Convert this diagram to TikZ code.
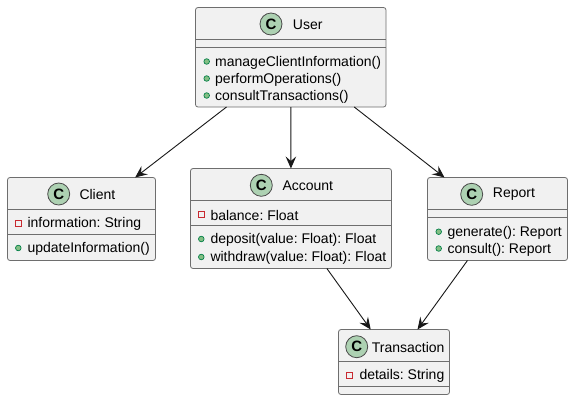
\documentclass[tikz,border=0pt]{standalone}
\usepackage{fontspec}
\setmainfont{Liberation Sans}
\usetikzlibrary{arrows.meta}
\definecolor{boxfill}{HTML}{F1F1F1}
\definecolor{boxline}{HTML}{6E6E6E}
\definecolor{arrline}{HTML}{181818}
\definecolor{spotline}{HTML}{4A4A4A}
\definecolor{spotfill}{HTML}{ADD1B2}
\definecolor{pubfill}{HTML}{84BE84}
\definecolor{publine}{HTML}{038048}
\definecolor{privline}{HTML}{C82930}
\tikzset{
  classbox/.style={draw=boxline,fill=boxfill,line width=0.8pt,rounded corners=2.5pt,outer sep=0pt,inner sep=0pt,rectangle},
  sepline/.style={draw=boxline,line width=0.8pt},
  spot/.style={circle,draw=spotline,fill=spotfill,line width=0.8pt,minimum size=22pt,inner sep=0pt,font=\fontsize{15}{15}\selectfont\bfseries},
  titletext/.style={anchor=west,inner sep=0pt,font=\fontsize{14}{16}\selectfont\frenchspacing,text=black,yshift=-0.3pt},
  membertext/.style={anchor=west,inner sep=0pt,font=\fontsize{14}{16}\selectfont\frenchspacing,text=black,yshift=-1.2pt},
  pubdot/.style={circle,draw=publine,fill=pubfill,line width=0.7pt,minimum size=5.6pt,inner sep=0pt},
  privsq/.style={rectangle,draw=privline,fill=none,line width=0.8pt,minimum size=6pt,inner sep=0pt},
  assoc/.style={draw=arrline,line width=0.9pt,-{Stealth[length=12pt,width=10.5pt,inset=4.5pt]}}
}
\begin{document}
\begin{tikzpicture}[x=1pt,y=-1pt]
\useasboundingbox[fill=white] (0,0) rectangle (573,400);
% boxes
\node[classbox,minimum width=190.5pt,minimum height=99.5pt] (user) at (290.75,57.25) {};
\node[classbox,minimum width=148pt,minimum height=83pt] (client) at (81.5,219) {};
\node[classbox,minimum width=201pt,minimum height=100pt] (account) at (291,218.5) {};
\node[classbox,minimum width=140pt,minimum height=83pt] (report) at (497.5,219) {};
\node[classbox,minimum width=111pt,minimum height=65pt] (transaction) at (394,362) {};
% compartments
\draw[sepline] (user.west |- 0,39.5) -- (user.east |- 0,39.5);
\draw[sepline] (user.west |- 0,47.5) -- (user.east |- 0,47.5);
\draw[sepline] (client.west |- 0,209.5) -- (client.east |- 0,209.5);
\draw[sepline] (client.west |- 0,234.5) -- (client.east |- 0,234.5);
\draw[sepline] (account.west |- 0,200.5) -- (account.east |- 0,200.5);
\draw[sepline] (account.west |- 0,225.5) -- (account.east |- 0,225.5);
\draw[sepline] (report.west |- 0,209.5) -- (report.east |- 0,209.5);
\draw[sepline] (report.west |- 0,217.5) -- (report.east |- 0,217.5);
\draw[sepline] (transaction.west |- 0,361.5) -- (transaction.east |- 0,361.5);
\draw[sepline] (transaction.west |- 0,386) -- (transaction.east |- 0,386);
% titles
\node[spot] (userspot) at (271,24) {C};
\node[titletext] (usertitle) at (292.7,24) {User};
\node[spot] (clientspot) at (58.7,194) {C};
\node[titletext] (clienttitle) at (79.3,194) {Client};
\node[spot] (accountspot) at (261.3,185.3) {C};
\node[titletext] (accounttitle) at (282.3,185.3) {Account};
\node[spot] (reportspot) at (471.7,194.3) {C};
\node[titletext] (reporttitle) at (492.7,194.3) {Report};
\node[spot] (transactionspot) at (356.7,346.7) {C};
\node[titletext] (transactiontitle) at (371.7,346.7) {Transaction};
% User members
\node[pubdot] (u1d) at (206.7,61.5) {};
\node[membertext] (u1) at (215,61.5) {manageClientInformation()};
\node[pubdot] (u2d) at (206.7,78.5) {};
\node[membertext] (u2) at (215,78.5) {performOperations()};
\node[pubdot] (u3d) at (206.7,95.5) {};
\node[membertext] (u3) at (215,95.5) {consultTransactions()};
% Client members
\node[privsq] (c1d) at (18.3,223.3) {};
\node[membertext] (c1) at (27.3,223) {information: String};
\node[pubdot] (c2d) at (18.3,248) {};
\node[membertext] (c2) at (27.3,248) {updateInformation()};
% Account members
\node[privsq] (a1d) at (201.3,214.3) {};
\node[membertext] (a1) at (210.3,214) {balance: Float};
\node[pubdot] (a2d) at (201.3,239) {};
\node[membertext] (a2) at (210.3,239) {deposit(value: Float): Float};
\node[pubdot] (a3d) at (201.3,257) {};
\node[membertext] (a3) at (210.3,257) {withdraw(value: Float): Float};
% Report members
\node[pubdot] (r1d) at (438.7,231.7) {};
\node[membertext] (r1) at (447.3,231.7) {generate(): Report};
\node[pubdot] (r2d) at (438.7,248.5) {};
\node[membertext] (r2) at (447.3,248.5) {consult(): Report};
% Transaction members
\node[privsq] (t1d) at (349.3,375.3) {};
\node[membertext] (t1) at (359.3,375) {details: String};
% connectors
\draw[assoc] (user) -- (client);
\draw[assoc] (user) -- (account);
\draw[assoc] (user) -- (report);
\draw[assoc] (account) -- (transaction);
\draw[assoc] (report) -- (transaction);
\end{tikzpicture}
\end{document}
